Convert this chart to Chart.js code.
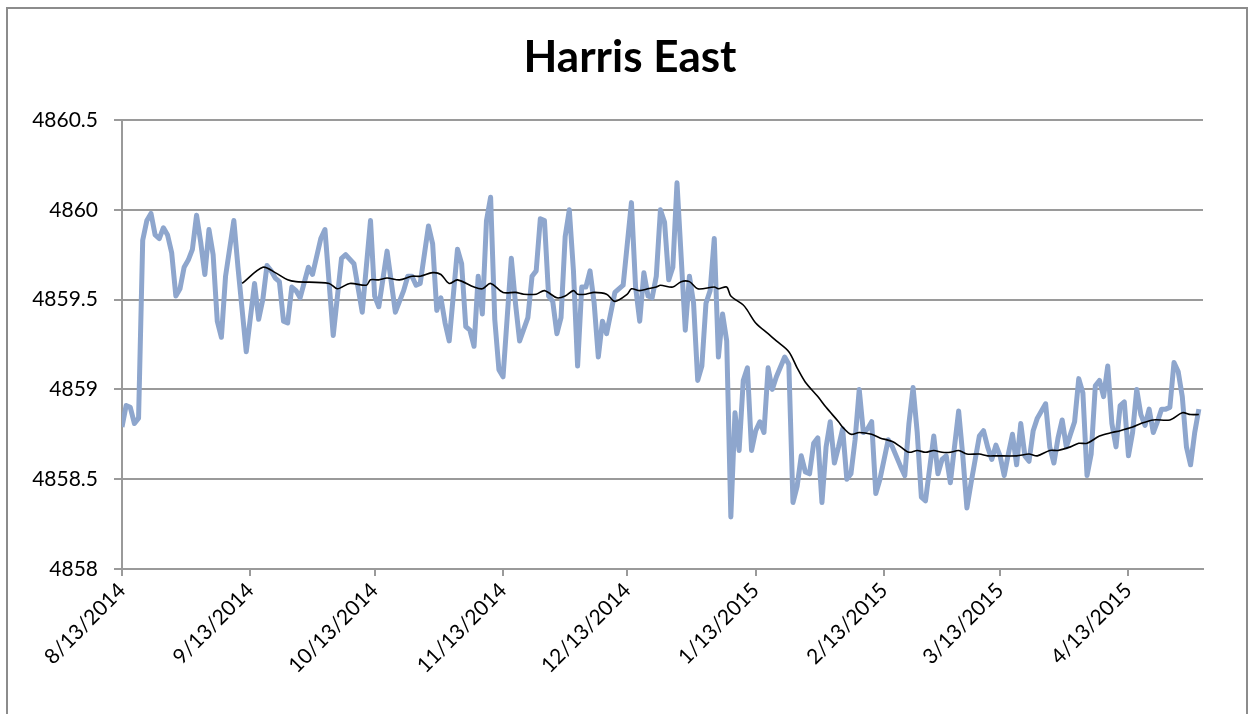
<!DOCTYPE html>
<html>
<head>
<meta charset="utf-8">
<title>Harris East</title>
<script src="https://cdn.jsdelivr.net/npm/chart.js@4.4.1/dist/chart.umd.min.js"></script>
<style>
  html, body { margin: 0; padding: 0; background: #fff; }
  #wrap { width: 1254px; height: 714px; }
</style>
</head>
<body>
<div id="wrap"><canvas id="chart" width="1254" height="714"></canvas></div>
<script>
const chartTitle = 'Harris East';

// days counted from 8/13/2014
const tickDays = [0, 31, 61, 92, 122, 153, 184, 212, 243];
const tickLabels = ['8/13/2014', '9/13/2014', '10/13/2014', '11/13/2014', '12/13/2014',
  '1/13/2015', '2/13/2015', '3/13/2015', '4/13/2015'];

// daily level readings
const levelDays = [
  0, 1, 2, 3, 4, 5, 6, 7, 8, 9, 10, 11, 12, 13, 14, 15, 16, 17, 18, 19, 20, 21, 22, 23, 24, 25, 27, 28, 30,
  32, 33, 34, 35, 36, 37, 38, 39, 40, 41, 42, 43, 45, 46, 47, 48, 49, 51, 53, 54, 56, 58,
  60, 61, 62, 64, 66, 68, 69, 70, 71, 72, 74, 75, 76, 77, 78, 79, 81, 82, 83, 84, 85, 86, 87, 88, 89,
  90, 91, 92, 94, 95, 96, 98, 99, 100, 101, 102, 103, 104, 105, 106, 107, 108, 109, 110, 111, 112, 113,
  114, 115, 116, 117, 119, 121, 123, 124, 125, 126, 127, 128, 129, 130, 131, 132, 133, 134, 135, 136,
  137, 138, 139, 140, 141, 142, 143, 144, 145, 146, 147, 148, 149, 150, 151, 152, 153, 154, 155, 156,
  157, 158, 160, 161, 162, 163, 164, 165, 166, 167, 168, 169, 170, 171, 172, 173, 174, 175, 176, 177,
  178, 179, 180, 181, 182, 183, 184, 185, 186, 188, 189, 190, 191, 192, 193, 194, 196, 197, 198, 199,
  200, 202, 203, 204, 205, 207, 208, 209, 210, 211, 212, 213, 214, 215, 216, 217, 218, 219, 220, 221,
  223, 224, 225, 226, 227, 228, 229, 230, 231, 232, 233, 234, 235, 236, 237, 238, 239, 240, 241, 242,
  243, 244, 245, 246, 247, 248, 249, 250, 251, 252, 253, 254, 255, 256, 257, 258, 259, 260
];
const levels = [
  4858.79, 4858.91, 4858.90, 4858.81, 4858.84, 4859.83, 4859.94, 4859.98, 4859.86, 4859.84, 4859.90, 4859.86,
  4859.76, 4859.52, 4859.56, 4859.68, 4859.72, 4859.78, 4859.97, 4859.82, 4859.64, 4859.89, 4859.75, 4859.38,
  4859.29, 4859.63, 4859.94, 4859.68, 4859.21,
  4859.59, 4859.39, 4859.50, 4859.69, 4859.66, 4859.62, 4859.60, 4859.38, 4859.37, 4859.57, 4859.55, 4859.51,
  4859.68, 4859.64, 4859.74, 4859.84, 4859.89, 4859.30, 4859.73, 4859.75, 4859.70, 4859.43,
  4859.94, 4859.52, 4859.46, 4859.77, 4859.43, 4859.55, 4859.63, 4859.63, 4859.58, 4859.59, 4859.91, 4859.81,
  4859.44, 4859.51, 4859.37, 4859.27, 4859.78, 4859.70, 4859.35, 4859.33, 4859.24, 4859.63, 4859.42, 4859.94,
  4860.07,
  4859.39, 4859.11, 4859.07, 4859.73, 4859.48, 4859.27, 4859.40, 4859.63, 4859.66, 4859.95, 4859.94, 4859.52,
  4859.49, 4859.31, 4859.40, 4859.85, 4860.00, 4859.66, 4859.13, 4859.57, 4859.57, 4859.66,
  4859.48, 4859.18, 4859.38, 4859.31, 4859.54, 4859.58, 4860.04, 4859.57, 4859.38, 4859.65, 4859.52, 4859.51,
  4859.63, 4860.00, 4859.93, 4859.61, 4859.68, 4860.15, 4859.74, 4859.33,
  4859.63, 4859.48, 4859.05, 4859.13, 4859.48, 4859.55, 4859.84, 4859.18, 4859.42, 4859.27, 4858.29, 4858.87,
  4858.66, 4859.05, 4859.12, 4858.66, 4858.77, 4858.82, 4858.76, 4859.12,
  4859.00, 4859.07, 4859.18, 4859.14, 4858.37, 4858.46, 4858.63, 4858.54, 4858.53, 4858.70, 4858.73, 4858.37,
  4858.68, 4858.82, 4858.59, 4858.68, 4858.78, 4858.50, 4858.53, 4858.72,
  4859.00, 4858.76, 4858.78, 4858.82, 4858.42, 4858.50, 4858.61, 4858.72, 4858.68, 4858.57, 4858.52, 4858.81,
  4859.01, 4858.76, 4858.40, 4858.38, 4858.74, 4858.53, 4858.61, 4858.63,
  4858.48, 4858.88, 4858.63, 4858.34, 4858.48, 4858.74, 4858.77, 4858.68, 4858.61, 4858.69, 4858.63, 4858.52,
  4858.64, 4858.75, 4858.58, 4858.81, 4858.63, 4858.60, 4858.77, 4858.84,
  4858.92, 4858.68, 4858.59, 4858.73, 4858.83, 4858.68, 4858.75, 4858.82, 4859.06, 4858.98, 4858.52, 4858.64,
  4859.02, 4859.05, 4858.96, 4859.13, 4858.81, 4858.68, 4858.91, 4858.93,
  4858.63, 4858.76, 4859.00, 4858.86, 4858.80, 4858.89, 4858.76, 4858.82, 4858.89, 4858.89, 4858.90, 4859.15,
  4859.10, 4858.96, 4858.68, 4858.58, 4858.76, 4858.89
];

// moving average (black line)
const avgDays = [
  29, 34, 37, 40, 42, 50, 52, 55, 59, 60, 62, 64, 67, 70, 72, 75, 77, 79, 81, 85, 87, 89, 92, 95, 97, 100,
  102, 105, 107, 109, 110, 112, 114, 117, 119, 122, 123, 125, 127, 129, 130, 133, 135, 137, 139, 143, 144,
  146, 147, 150, 151, 153, 156, 158, 161, 163, 165, 168, 170, 173, 174, 176, 178, 181, 183, 186, 188, 190,
  192, 194, 196, 198, 200, 202, 204, 207, 209, 211, 216, 219, 221, 224, 226, 229, 231, 233, 236, 239, 241,
  244, 246, 249, 253, 256, 258, 260
];
const avgLevels = [
  4859.59, 4859.68, 4859.65, 4859.61, 4859.60, 4859.59, 4859.56, 4859.59, 4859.58, 4859.61, 4859.61, 4859.62,
  4859.61, 4859.63, 4859.63, 4859.65, 4859.64, 4859.59, 4859.61, 4859.57, 4859.56, 4859.59, 4859.54, 4859.54,
  4859.53, 4859.53, 4859.55, 4859.51, 4859.52, 4859.55, 4859.53, 4859.53, 4859.54, 4859.53, 4859.49, 4859.53,
  4859.56, 4859.55, 4859.56, 4859.57, 4859.58, 4859.57, 4859.60, 4859.60, 4859.56, 4859.57, 4859.56, 4859.57,
  4859.52, 4859.47, 4859.44, 4859.37, 4859.31, 4859.27, 4859.21, 4859.12, 4859.04, 4858.96, 4858.90, 4858.82,
  4858.79, 4858.75, 4858.76, 4858.75, 4858.73, 4858.71, 4858.68, 4858.65, 4858.66, 4858.65, 4858.66, 4858.65,
  4858.65, 4858.66, 4858.64, 4858.64, 4858.63, 4858.63, 4858.63, 4858.64, 4858.63, 4858.66, 4858.66, 4858.68,
  4858.70, 4858.70, 4858.74, 4858.76, 4858.77, 4858.79, 4858.81, 4858.83, 4858.83, 4858.87, 4858.86, 4858.86
];

const gridGray = '#9a9a9a';

// white background, outer frame and the centred title
const framePlugin = {
  id: 'frame',
  beforeDraw(chart) {
    const ctx = chart.ctx;
    ctx.save();
    ctx.fillStyle = '#ffffff';
    ctx.fillRect(0, 0, chart.width, chart.height);
    ctx.strokeStyle = '#8c8c8c';
    ctx.lineWidth = 2;
    ctx.strokeRect(7, 8, 1240, 720);
    ctx.restore();
  },
  afterDraw(chart) {
    const ctx = chart.ctx;
    ctx.save();
    ctx.fillStyle = '#000000';
    ctx.font = 'bold 44px Lato';
    ctx.textAlign = 'center';
    ctx.textBaseline = 'middle';
    ctx.fillText(chartTitle, 630, 58);
    ctx.restore();
  }
};

const ctx = document.getElementById('chart').getContext('2d');
new Chart(ctx, {
  type: 'line',
  data: {
    datasets: [
      {
        label: 'Moving average',
        data: avgDays.map((d, i) => ({ x: d, y: avgLevels[i] })),
        borderColor: '#000000',
        borderWidth: 1.6,
        pointRadius: 0,
        tension: 0.3,
        fill: false
      },
      {
        label: 'Level',
        data: levelDays.map((d, i) => ({ x: d, y: levels[i] })),
        borderColor: '#8ea6cd',
        borderWidth: 5,
        pointRadius: 0,
        tension: 0,
        borderJoinStyle: 'round',
        fill: false
      }
    ]
  },
  options: {
    responsive: false,
    animation: false,
    layout: { padding: { left: 0, right: 51, top: 120, bottom: 0 } },
    plugins: {
      legend: { display: false },
      tooltip: { enabled: false },
      title: { display: false }
    },
    scales: {
      x: {
        type: 'linear',
        min: 0,
        max: 261,
        afterBuildTicks: (scale) => {
          scale.ticks = tickDays.map(v => ({ value: v }));
        },
        afterFit: (scale) => { scale.height = 145; },
        ticks: {
          autoSkip: false,
          minRotation: 45,
          maxRotation: 45,
          color: '#000000',
          padding: 2,
          font: { family: 'Lato', size: 21 },
          callback: (value) => {
            const i = tickDays.indexOf(value);
            return i >= 0 ? tickLabels[i] : '';
          }
        },
        grid: {
          drawOnChartArea: false,
          drawTicks: true,
          tickLength: 7,
          color: gridGray,
          lineWidth: 2
        },
        border: { display: true, color: gridGray, width: 2 }
      },
      y: {
        min: 4858,
        max: 4860.5,
        afterFit: (scale) => { scale.width = 122; },
        ticks: {
          stepSize: 0.5,
          color: '#000000',
          padding: 16,
          font: { family: 'Lato', size: 21 },
          callback: (value) => String(value)
        },
        grid: {
          color: gridGray,
          lineWidth: 2,
          drawTicks: true,
          tickLength: 8
        },
        border: { display: true, color: gridGray, width: 2 }
      }
    }
  },
  plugins: [framePlugin]
});
</script>
</body>
</html>
